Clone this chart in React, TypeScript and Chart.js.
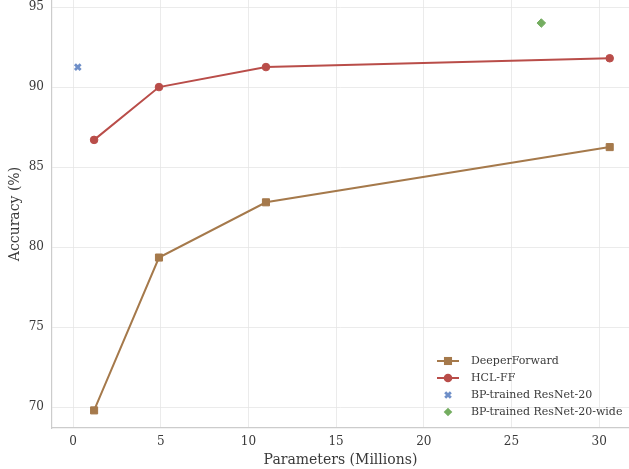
import React, { useEffect, useRef } from "react";
import { Chart, registerables } from "chart.js";

Chart.register(...registerables);

const deeperParams = [1.2, 4.9, 11.0, 30.6];
const deeperAcc = [69.8, 79.35, 82.8, 86.25];
const hclParams = [1.2, 4.9, 11.0, 30.6];
const hclAcc = [86.7, 90.0, 91.25, 91.8];
const bpParams = [0.27];
const bpAcc = [91.25];
const bpWideParams = [26.7];
const bpWideAcc = [94.0];

const seriesLabels = [
  "DeeperForward",
  "HCL-FF",
  "BP-trained ResNet-20",
  "BP-trained ResNet-20-wide",
];
const xTicks = [0, 5, 10, 15, 20, 25, 30];
const yTicks = [70, 75, 80, 85, 90, 95];
const xTitle = "Parameters (Millions)";
const yTitle = "Accuracy (%)";

const BROWN = "#a5794b";
const RED = "#b94d49";
const BLUE = "#6f8fc8";
const GREEN = "#74ad60";
const FONT = "'DejaVu Serif', serif";
const TEXT = "#3a3a3a";

const zip = (xs: number[], ys: number[]) => xs.map((x, i) => ({ x, y: ys[i] }));

function drawMarker(ctx: CanvasRenderingContext2D, style: string, x: number, y: number, r: number, color: string) {
  ctx.save();
  ctx.fillStyle = color;
  ctx.strokeStyle = color;
  if (style === "rect") {
    const s = r * Math.SQRT1_2;
    ctx.fillRect(x - s - 0.5, y - s - 0.5, 2 * s + 1, 2 * s + 1);
  } else if (style === "circle") {
    ctx.beginPath();
    ctx.arc(x, y, r + 0.5, 0, Math.PI * 2);
    ctx.fill();
  } else if (style === "crossRot") {
    ctx.lineWidth = 2.8;
    const s = r * Math.SQRT1_2;
    ctx.beginPath();
    ctx.moveTo(x - s, y - s);
    ctx.lineTo(x + s, y + s);
    ctx.moveTo(x - s, y + s);
    ctx.lineTo(x + s, y - s);
    ctx.stroke();
  } else if (style === "rectRot") {
    ctx.beginPath();
    ctx.moveTo(x, y - r);
    ctx.lineTo(x + r, y);
    ctx.lineTo(x, y + r);
    ctx.lineTo(x - r, y);
    ctx.closePath();
    ctx.fill();
  }
  ctx.restore();
}

const legendPlugin = {
  id: "innerLegend",
  afterDraw(chart: any) {
    const ctx = chart.ctx as CanvasRenderingContext2D;
    const x0 = 437;
    const y0 = 361;
    const dy = 17;
    chart.data.datasets.forEach((ds: any, i: number) => {
      const y = y0 + i * dy;
      if (ds.showLine) {
        ctx.save();
        ctx.strokeStyle = ds.borderColor;
        ctx.lineWidth = 2;
        ctx.beginPath();
        ctx.moveTo(x0, y);
        ctx.lineTo(x0 + 22, y);
        ctx.stroke();
        ctx.restore();
      }
      drawMarker(ctx, ds.pointStyle, x0 + 11, y, ds.pointRadius, ds.borderColor);
      ctx.save();
      ctx.fillStyle = TEXT;
      ctx.font = `11px ${FONT}`;
      ctx.textBaseline = "middle";
      ctx.textAlign = "left";
      ctx.fillText(ds.label, 471, y + 0.5);
      ctx.restore();
    });
  },
};

export default function App() {
  const ref = useRef<HTMLCanvasElement | null>(null);
  useEffect(() => {
    if (!ref.current) return;
    const grid = {
      color: "#e6e6e6",
      lineWidth: 0.8,
      borderDash: [1.5, 2],
      drawTicks: false,
    };
    const chart = new Chart(ref.current, {
      type: "scatter",
      data: {
        datasets: [
          {
            label: seriesLabels[0],
            data: zip(deeperParams, deeperAcc),
            showLine: true,
            borderColor: BROWN,
            backgroundColor: BROWN,
            borderWidth: 2,
            pointStyle: "rect",
            pointRadius: 5,
            pointBorderWidth: 1,
          },
          {
            label: seriesLabels[1],
            data: zip(hclParams, hclAcc),
            showLine: true,
            borderColor: RED,
            backgroundColor: RED,
            borderWidth: 2,
            pointStyle: "circle",
            pointRadius: 3.8,
            pointBorderWidth: 1,
          },
          {
            label: seriesLabels[2],
            data: zip(bpParams, bpAcc),
            showLine: false,
            borderColor: BLUE,
            backgroundColor: BLUE,
            pointStyle: "crossRot",
            pointRadius: 4,
            pointBorderWidth: 2.8,
          },
          {
            label: seriesLabels[3],
            data: zip(bpWideParams, bpWideAcc),
            showLine: false,
            borderColor: GREEN,
            backgroundColor: GREEN,
            pointStyle: "rectRot",
            pointRadius: 4.3,
            pointBorderWidth: 1,
          },
        ],
      },
      options: {
        animation: false,
        responsive: false,
        layout: { padding: 0, autoPadding: false },
        plugins: {
          legend: { display: false },
          tooltip: { enabled: false },
        },
        scales: {
          x: {
            type: "linear",
            min: -1.2,
            max: 31.7,
            afterFit(scale: any) {
              scale.height = 41;
              scale.paddingLeft = 0;
              scale.paddingRight = 0;
            },
            afterBuildTicks(scale: any) {
              scale.ticks = xTicks.map((v) => ({ value: v }));
            },
            grid,
            border: { color: "#cccccc", width: 1.2 },
            ticks: {
              padding: 7,
              color: TEXT,
              font: { family: FONT, size: 12 },
            },
            title: {
              display: true,
              text: xTitle,
              color: TEXT,
              font: { family: FONT, size: 14 },
              padding: { top: 0, bottom: 0 },
            },
          },
          y: {
            type: "linear",
            min: 68.7,
            max: 95.44,
            afterFit(scale: any) {
              scale.width = 52;
              scale.paddingTop = 0;
              scale.paddingBottom = 0;
            },
            afterBuildTicks(scale: any) {
              scale.ticks = yTicks.map((v) => ({ value: v }));
            },
            grid,
            border: { color: "#cccccc", width: 1.2 },
            ticks: {
              padding: 8,
              color: TEXT,
              font: { family: FONT, size: 12 },
            },
            title: {
              display: true,
              text: yTitle,
              color: TEXT,
              font: { family: FONT, size: 14 },
              padding: { top: 6.5, bottom: 0 },
            },
          },
        },
      } as any,
      plugins: [legendPlugin],
    });
    return () => chart.destroy();
  }, []);
  return (
    <div style={{ position: "absolute", left: 0, top: 0, width: 629, height: 469, background: "#fff" }}>
      <canvas ref={ref} width={629} height={469} />
    </div>
  );
}
